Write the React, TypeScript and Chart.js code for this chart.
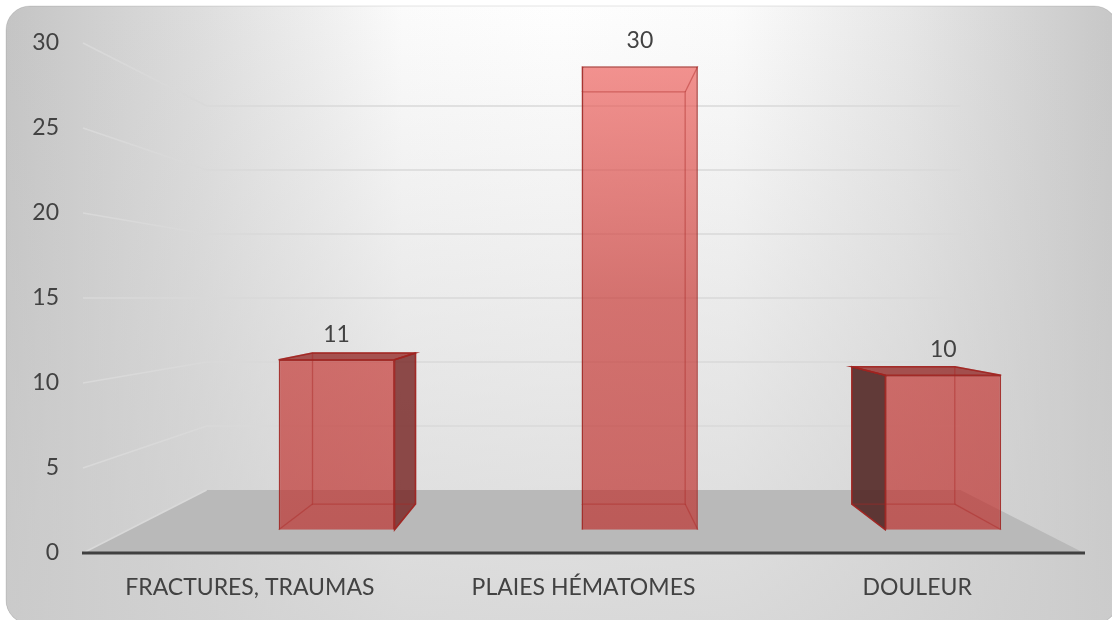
import React, { useEffect, useRef } from "react";
import { Chart, registerables } from "chart.js";

Chart.register(...registerables);

// ---------- data ----------
const categories = ["FRACTURES, TRAUMAS", "PLAIES HÉMATOMES", "DOULEUR"];
const values = [11, 30, 10];
const yMin = 0;
const yMax = 30;
const yStep = 5;

// ---------- style constants ----------
const FONT = "Lato, 'Open Sans', 'DejaVu Sans', sans-serif";
const TEXT_COLOR = "#424242";
const WALL_DEPTH = 0.753; // scale of back wall relative to the front plane
const BAR_SCALE = 0.909; // scale of bar front faces relative to the front plane
const BAR_DEPTH = 0.889; // scale of bar back faces relative to bar front faces
const BAR_SHIFT = 0.186; // horizontal shift of the bars (category units)
const GRID = "#d9d9d9";

const W = 1112;
const H = 620;

function project(vx: number, vy: number, s: number, x: number, y: number) {
  return [vx + s * (x - vx), vy + s * (y - vy)];
}

const backgroundPlugin = {
  id: "bg3d",
  beforeDraw(chart: any) {
    const { ctx } = chart;
    ctx.save();
    ctx.fillStyle = "#ffffff";
    ctx.fillRect(0, 0, W, H);
    const x0 = 6, y0 = 6, w = 1112, h = 618, r = 24;
    ctx.beginPath();
    ctx.roundRect(x0, y0, w, h, r);
    const g = ctx.createLinearGradient(x0, 0, W - 4, 0);
    g.addColorStop(0, "#c4c4c4");
    g.addColorStop(0.18, "#dedede");
    g.addColorStop(0.36, "#fbfbfb");
    g.addColorStop(0.5, "#fefefe");
    g.addColorStop(0.66, "#fbfbfb");
    g.addColorStop(0.82, "#e6e6e6");
    g.addColorStop(1, "#c8c8c8");
    ctx.fillStyle = g;
    ctx.fill();
    const v = ctx.createLinearGradient(0, y0, 0, H);
    v.addColorStop(0, "rgba(205,205,205,0)");
    v.addColorStop(1, "rgba(205,205,205,0.75)");
    ctx.fillStyle = v;
    ctx.fill();
    ctx.strokeStyle = "rgba(0,0,0,0.10)";
    ctx.lineWidth = 1;
    ctx.stroke();
    ctx.restore();
  },
};

function barBoxes(chart: any) {
  const area = chart.chartArea;
  const vx = (area.left + area.right) / 2;
  const vy = (area.top + area.bottom) / 2;
  const meta = chart.getDatasetMeta(0);
  return meta.data.map((bar: any) => {
    const p = bar.getProps(["x", "y", "base", "width"], true);
    const L = p.x - p.width / 2;
    const R = p.x + p.width / 2;
    const T = Math.min(p.y, p.base);
    const B = Math.max(p.y, p.base);
    const [L2, T2] = project(vx, vy, BAR_DEPTH, L, T);
    const [R2, B2] = project(vx, vy, BAR_DEPTH, R, B);
    return { x: p.x, L, R, T, B, L2, R2, T2, B2 };
  });
}

function poly(ctx: any, pts: number[][]) {
  ctx.beginPath();
  ctx.moveTo(pts[0][0], pts[0][1]);
  for (let i = 1; i < pts.length; i++) ctx.lineTo(pts[i][0], pts[i][1]);
  ctx.closePath();
}

const scenePlugin = {
  id: "scene3d",
  beforeDatasetsDraw(chart: any) {
    const { ctx, chartArea: a } = chart;
    const ys = chart.scales.y;
    const vx = (a.left + a.right) / 2;
    const vy = (a.top + a.bottom) / 2;
    ctx.save();
    const base = ys.getPixelForValue(yMin);
    const [bl, bb] = project(vx, vy, WALL_DEPTH, a.left, base);
    const [br] = project(vx, vy, WALL_DEPTH, a.right, base);
    // floor
    poly(ctx, [
      [a.left, base],
      [a.right, base],
      [br, bb],
      [bl, bb],
    ]);
    ctx.fillStyle = "#b9b9b9";
    ctx.fill();
    // gridlines: side wall + back wall
    ctx.strokeStyle = GRID;
    ctx.lineWidth = 1.6;
    for (let v = yMin; v <= yMax; v += yStep) {
      const fy = ys.getPixelForValue(v);
      const [px, py] = project(vx, vy, WALL_DEPTH, a.left, fy);
      const [qx] = project(vx, vy, WALL_DEPTH, a.right, fy);
      ctx.beginPath();
      ctx.moveTo(a.left, fy);
      ctx.lineTo(px, py);
      if (v !== yMin) ctx.lineTo(qx, py);
      ctx.stroke();
    }
    // axis line
    ctx.strokeStyle = "#404040";
    ctx.lineWidth = 3;
    ctx.beginPath();
    ctx.moveTo(a.left - 1, base);
    ctx.lineTo(a.right + 1, base);
    ctx.stroke();

    // visible side / top faces
    for (const b of barBoxes(chart)) {
      if (b.R2 > b.R + 1) {
        poly(ctx, [[b.R, b.T], [b.R2, b.T2], [b.R2, b.B2], [b.R, b.B]]);
        ctx.fillStyle = "rgba(120,38,36,0.82)";
        ctx.fill();
      }
      if (b.L2 < b.L - 1) {
        poly(ctx, [[b.L, b.T], [b.L2, b.T2], [b.L2, b.B2], [b.L, b.B]]);
        ctx.fillStyle = "rgba(80,35,33,0.88)";
        ctx.fill();
      }
      if (b.T2 < b.T) {
        poly(ctx, [[b.L, b.T], [b.R, b.T], [b.R2, b.T2], [b.L2, b.T2]]);
        ctx.fillStyle = "rgba(150,45,42,0.8)";
        ctx.fill();
      }
    }
    ctx.restore();
  },
  afterDatasetsDraw(chart: any) {
    const { ctx } = chart;
    ctx.save();
    const boxes = barBoxes(chart);
    for (const b of boxes) {
      // hidden edges seen through the transparent front face
      ctx.strokeStyle = "rgba(170,40,38,0.45)";
      ctx.lineWidth = 1.3;
      poly(ctx, [[b.L2, b.T2], [b.R2, b.T2], [b.R2, b.B2], [b.L2, b.B2]]);
      ctx.stroke();
      const pairs = [
        [b.L, b.T, b.L2, b.T2],
        [b.R, b.T, b.R2, b.T2],
        [b.R, b.B, b.R2, b.B2],
        [b.L, b.B, b.L2, b.B2],
      ];
      for (const [x1, y1, x2, y2] of pairs) {
        ctx.beginPath();
        ctx.moveTo(x1, y1);
        ctx.lineTo(x2, y2);
        ctx.stroke();
      }
      // outer edges of visible side faces
      ctx.strokeStyle = "rgba(160,35,32,0.9)";
      ctx.lineWidth = 1.5;
      if (b.R2 > b.R + 1) {
        poly(ctx, [[b.R, b.T], [b.R2, b.T2], [b.R2, b.B2], [b.R, b.B]]);
        ctx.stroke();
      }
      if (b.L2 < b.L - 1) {
        poly(ctx, [[b.L, b.T], [b.L2, b.T2], [b.L2, b.B2], [b.L, b.B]]);
        ctx.stroke();
      }
      if (b.T2 < b.T) {
        poly(ctx, [[b.L, b.T], [b.R, b.T], [b.R2, b.T2], [b.L2, b.T2]]);
        ctx.stroke();
      }
    }
    // value labels
    ctx.fillStyle = TEXT_COLOR;
    ctx.font = `23px ${FONT}`;
    ctx.textAlign = "center";
    ctx.textBaseline = "alphabetic";
    boxes.forEach((b: any, i: number) => {
      ctx.fillText(String(values[i]), b.x, b.T - 18);
    });
    ctx.restore();
  },
};

export default function App() {
  const ref = useRef<HTMLCanvasElement | null>(null);
  useEffect(() => {
    document.body.style.margin = "0";
    const canvas = ref.current!;
    const n = categories.length;
    const mid = (n - 1) / 2;
    const halfX = n / (2 * BAR_SCALE);
    const yMid = (yMin + yMax) / 2;
    const halfY = (yMax - yMin) / (2 * BAR_SCALE);
    const chart = new Chart(canvas, {
      type: "bar",
      data: {
        labels: categories,
        datasets: [
          {
            data: values.map((v, i) => ({ x: i, y: v })),
            xAxisID: "xb",
            yAxisID: "yb",
            backgroundColor: (c: any) => {
              const a = c.chart.chartArea;
              if (!a) return "rgba(200,60,56,0.68)";
              const g = c.chart.ctx.createLinearGradient(0, a.top, 0, a.bottom);
              g.addColorStop(0, "rgba(242,100,96,0.68)");
              g.addColorStop(0.5, "rgba(200,56,52,0.68)");
              g.addColorStop(1, "rgba(188,45,42,0.68)");
              return g;
            },
            borderColor: "rgba(160,35,32,0.9)",
            borderWidth: 1.5,
            categoryPercentage: 1,
            barPercentage: 0.382,
          } as any,
        ],
      },
      options: {
        responsive: false,
        animation: false,
        devicePixelRatio: 1,
        layout: { padding: { top: 43, right: 28, left: 0, bottom: 0 } },
        plugins: {
          legend: { display: false },
          tooltip: { enabled: false },
          title: { display: false },
        },
        scales: {
          x: {
            type: "category",
            position: "bottom",
            offset: true,
            grid: { display: false, drawTicks: false },
            border: { display: false },
            ticks: { font: { family: FONT, size: 23 }, color: TEXT_COLOR, padding: 21, maxRotation: 0 },
            afterFit(s: any) {
              s.height = 67;
            },
          },
          y: {
            type: "linear",
            position: "left",
            min: yMin,
            max: yMax,
            grid: { display: false, drawTicks: false },
            border: { display: false },
            ticks: { stepSize: yStep, font: { family: FONT, size: 23 }, color: TEXT_COLOR, padding: 24 },
            afterFit(s: any) {
              s.width = 83;
            },
          },
          xb: {
            type: "linear",
            display: false,
            offset: false,
            grid: { offset: false },
            min: mid - halfX - BAR_SHIFT,
            max: mid + halfX - BAR_SHIFT,
            ticks: { stepSize: 1, includeBounds: false },
          },
          yb: {
            type: "linear",
            display: false,
            min: yMid - halfY,
            max: yMid + halfY,
          },
        } as any,
      },
      plugins: [backgroundPlugin, scenePlugin],
    } as any);
    return () => chart.destroy();
  }, []);
  return (
    <div style={{ position: "fixed", left: 0, top: 0, width: W, height: H }}>
      <canvas ref={ref} width={W} height={H} style={{ display: "block" }} />
    </div>
  );
}
